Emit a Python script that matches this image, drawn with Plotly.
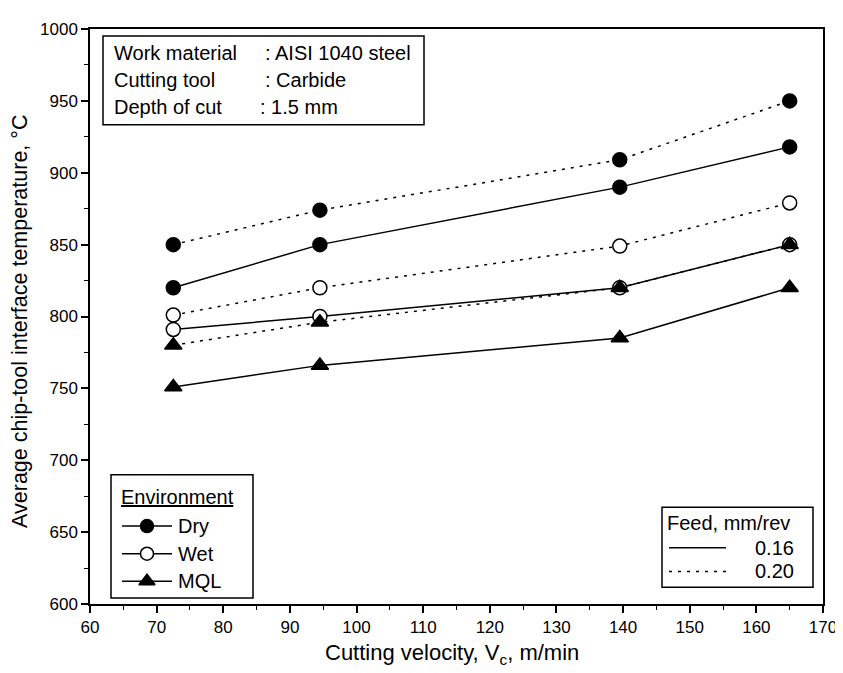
import plotly.graph_objects as go

# ---- data ----
velocity = [72.5, 94.5, 139.5, 165]
dry_016 = [820, 850, 890, 918]
dry_020 = [850, 874, 909, 950]
wet_016 = [791, 800, 820, 850]
wet_020 = [801, 820, 849, 879]
mql_016 = [751, 766, 785, 820]
mql_020 = [780, 796, 820, 850]

x_ticks = list(range(60, 171, 10))
y_ticks = list(range(600, 1001, 50))

FONT = "Liberation Sans, Arial, sans-serif"
BLACK = "black"
DOT = "3px,6px"
TXT = 20

fig = go.Figure()

def series(y, symbol, fill, dash):
    fig.add_trace(go.Scatter(
        x=velocity, y=y, mode="lines+markers",
        line=dict(color=BLACK, width=1.5, dash=dash),
        marker=dict(symbol=symbol, size=14 if symbol == "circle" else 15,
                    color=fill, line=dict(color=BLACK, width=1.5)),
        showlegend=False, cliponaxis=False))

series(dry_020, "circle", BLACK, DOT)
series(dry_016, "circle", BLACK, "solid")
series(wet_020, "circle", "white", DOT)
series(wet_016, "circle", "white", "solid")
series(mql_020, "triangle-up", BLACK, DOT)
series(mql_016, "triangle-up", BLACK, "solid")

# ---- custom legend (pixel overlay axes) ----
env_rows = [("Dry", "circle", BLACK, 525), ("Wet", "circle", "white", 553), ("MQL", "triangle-up", BLACK, 581)]
for name, sym, fill, yy in env_rows:
    fig.add_trace(go.Scatter(
        x=[122, 147, 172], y=[yy, yy, yy], xaxis="x2", yaxis="y2",
        mode="lines", line=dict(color=BLACK, width=1.5),
        showlegend=False, hoverinfo="skip"))
    fig.add_trace(go.Scatter(
        x=[147], y=[yy], xaxis="x2", yaxis="y2", mode="markers",
        marker=dict(symbol=sym, size=13 if sym == "circle" else 14, color=fill,
                    line=dict(color=BLACK, width=1.5)),
        showlegend=False, hoverinfo="skip"))

for yy, dash in [(547, "solid"), (571, DOT)]:
    fig.add_trace(go.Scatter(
        x=[669, 726], y=[yy, yy], xaxis="x2", yaxis="y2", mode="lines",
        line=dict(color=BLACK, width=1.5, dash=dash),
        showlegend=False, hoverinfo="skip"))

shapes = [
    dict(type="rect", xref="x2", yref="y2", x0=103, x1=424, y0=28, y1=118,
         line=dict(color=BLACK, width=1.5), fillcolor="white", layer="below"),
    dict(type="rect", xref="x2", yref="y2", x0=111, x1=253, y0=473, y1=598,
         line=dict(color=BLACK, width=1.5), fillcolor="white", layer="below"),
    dict(type="rect", xref="x2", yref="y2", x0=662, x1=813, y0=506, y1=587,
         line=dict(color=BLACK, width=1.5), fillcolor="white", layer="below"),
]

def txt(x, y, s, anchor="left", size=TXT):
    return dict(xref="x2", yref="y2", x=x, y=y, text=s, showarrow=False,
                xanchor=anchor, yanchor="middle",
                font=dict(family=FONT, size=size, color=BLACK))

annotations = [
    txt(112, 45, "Work material"), txt(263, 45, ": AISI 1040 steel"),
    txt(112, 73, "Cutting tool"), txt(263, 73, ": Carbide"),
    txt(112, 100, "Depth of cut"), txt(258, 100, ": 1.5 mm"),
    txt(119, 496, "<u>Environment</u>"),
    txt(176, 525, "Dry"), txt(176, 553, "Wet"), txt(176, 581, "MQL"),
    txt(665, 522, "Feed, mm/rev"),
    txt(796, 547, "0.16", anchor="right"), txt(796, 571, "0.20", anchor="right"),
    dict(xref="paper", yref="paper", x=(452 - 90) / 733, y=-(655 - 604) / 583,
         text="Cutting velocity, V<sub>c</sub>, m/min", showarrow=False,
         xanchor="center", yanchor="middle",
         font=dict(family=FONT, size=22, color=BLACK)),
    dict(xref="paper", yref="paper", x=-(90 - 20) / 733, y=(604 - 318) / 583,
         text="Average chip-tool interface temperature, °C", showarrow=False,
         textangle=-90, xanchor="center", yanchor="middle",
         font=dict(family=FONT, size=21.5, color=BLACK)),
]

axis_common = dict(ticks="outside", ticklen=7, tickwidth=1.5, tickcolor=BLACK,
                   showline=True, linecolor=BLACK, linewidth=1.5, mirror=True,
                   showgrid=False, zeroline=False,
                   tickfont=dict(family=FONT, size=17, color=BLACK))

fig.update_layout(
    width=843, height=673,
    # the page adds an 8px body margin, so the figure origin sits at (8, 8)
    margin=dict(l=82, r=28, t=13, b=77),
    paper_bgcolor="white", plot_bgcolor="white",
    font=dict(family=FONT, size=17, color=BLACK),
    shapes=shapes, annotations=annotations,
    xaxis=dict(range=[60, 170], tickvals=x_ticks,
               minor=dict(dtick=5, tick0=60, ticks="outside", ticklen=4,
                          tickcolor=BLACK, tickwidth=1),
               **axis_common),
    yaxis=dict(range=[600, 1000], tickvals=y_ticks,
               minor=dict(dtick=25, tick0=600, ticks="outside", ticklen=4,
                          tickcolor=BLACK, tickwidth=1),
               **axis_common),
    xaxis2=dict(range=[90, 823], overlaying="x", visible=False, fixedrange=True),
    yaxis2=dict(range=[604, 21], overlaying="y", visible=False, fixedrange=True),
)

fig.write_html("out.html")
